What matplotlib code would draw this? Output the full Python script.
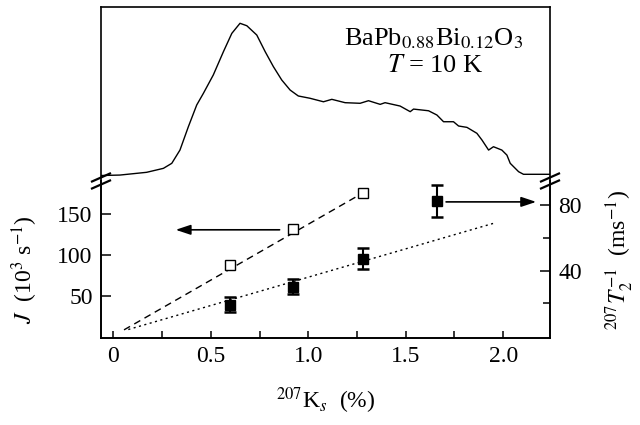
import matplotlib
matplotlib.use("Agg")
import matplotlib.pyplot as plt
from matplotlib.lines import Line2D
from matplotlib.ticker import FixedLocator

plt.rcParams.update({"font.family": "Liberation Serif", "mathtext.fontset": "stix",
                     "font.size": 17, "axes.linewidth": 1.2})

# spectrum (top panel): 207Ks (%) vs intensity (arb. units, peak = 1)
spec_ks = [-0.063, 0.034, 0.171, 0.257, 0.300, 0.342, 0.385, 0.428, 0.462, 0.513,
           0.565, 0.608, 0.650, 0.685, 0.736, 0.779, 0.821, 0.864, 0.907, 0.949,
           1.009, 1.078, 1.121, 1.189, 1.266, 1.309, 1.369, 1.394, 1.471, 1.523,
           1.540, 1.617, 1.660, 1.694, 1.745, 1.771, 1.814, 1.865, 1.891, 1.925,
           1.950, 1.993, 2.019, 2.036, 2.079, 2.104, 2.250]
spec_int = [-0.003, 0.000, 0.018, 0.044, 0.077, 0.164, 0.317, 0.460, 0.536, 0.657,
            0.810, 0.930, 0.996, 0.980, 0.919, 0.810, 0.712, 0.624, 0.558, 0.519,
            0.504, 0.481, 0.497, 0.475, 0.471, 0.488, 0.464, 0.475, 0.453, 0.416,
            0.433, 0.422, 0.394, 0.350, 0.350, 0.322, 0.313, 0.274, 0.230, 0.164,
            0.186, 0.164, 0.131, 0.077, 0.022, 0.005, 0.005]

# J (10^3 s^-1), open squares
j_ks = [0.60, 0.92, 1.28]
j_val = [88, 132, 176]
j_fit_ks = [0.055, 1.285]
j_fit = [8, 177]

# 207T2^-1 (ms^-1), filled squares with error bars
t2_ks = [0.60, 0.92, 1.28, 1.66]
t2_val = [19.3, 30.3, 47.5, 82.6]
t2_err = [4.8, 4.8, 6.4, 9.8]
t2_fit_ks = [0.077, 1.96]
t2_fit = [4, 69.4]

XLIM = (-0.063, 2.24)

fig = plt.figure(figsize=(6.4, 4.25), dpi=100)
L, W = 101 / 640, 449 / 640
ax_top = fig.add_axes([L, (425 - 181) / 425, W, 174 / 425])
ax = fig.add_axes([L, (425 - 338) / 425, W, 157 / 425])
ax2 = ax.twinx()

# top panel
ax_top.plot(spec_ks, spec_int, color="black", lw=1.0, solid_joinstyle="round")
ax_top.set_xlim(*XLIM)
ax_top.set_ylim(-0.039, 1.103)
ax_top.spines["bottom"].set_visible(False)
ax_top.set_xticks([])
ax_top.set_yticks([])
ax_top.text(0.742, 0.782, r"BaPb$_{0.88}$Bi$_{0.12}$O$_3$", transform=ax_top.transAxes,
            ha="center", va="baseline", fontsize=19)
ax_top.text(0.745, 0.626, r"$T$ = 10 K", transform=ax_top.transAxes,
            ha="center", va="baseline", fontsize=19)

# bottom panel, left axis
ax.plot(j_fit_ks, j_fit, color="black", lw=1.0, dashes=(5, 3.5))
ax.plot(j_ks, j_val, "s", ms=7, mfc="white", mec="black", mew=1.0, zorder=4)
ax.set_xlim(*XLIM)
ax.set_ylim(-2, 191)
ax.spines["top"].set_visible(False)
ax.set_xticks([0, 0.5, 1.0, 1.5, 2.0])
ax.set_xticklabels(["0", "0.5", "1.0", "1.5", "2.0"])
ax.xaxis.set_minor_locator(FixedLocator([0.25, 0.75, 1.25, 1.75]))
ax.set_yticks([50, 100, 150])
ax.tick_params(axis="x", which="both", direction="in", length=5, width=1.1, pad=6)
ax.tick_params(axis="y", direction="in", length=7, width=1.1, pad=6)
ax.set_xlabel(r"$^{207}$K$_{s}$  (%)", fontsize=17)
ax.xaxis.set_label_coords(0.5, -0.30)
ax.set_ylabel(r"$J$  (10$^3$ s$^{-1}$)", fontsize=17, va="center")
ax.yaxis.set_label_coords(-0.169, 0.433)
ax.annotate("", xy=(0.32, 131), xytext=(0.853, 131),
            arrowprops=dict(arrowstyle="-|>,head_length=0.9,head_width=0.3",
                            color="black", lw=1.2, shrinkA=0, shrinkB=0, mutation_scale=10))

# bottom panel, right axis
ax2.plot(t2_fit_ks, t2_fit, color="black", lw=1.0, dashes=(1.5, 2.5))
ax2.errorbar(t2_ks, t2_val, yerr=t2_err, fmt="s", ms=6.5, color="black",
             ecolor="black", elinewidth=1.5, capsize=4.5, capthick=1.8, zorder=4)
ax2.set_ylim(-1.2, 95)
ax2.spines["top"].set_visible(False)
ax2.set_yticks([40, 80])
ax2.yaxis.set_minor_locator(FixedLocator([20, 60]))
ax2.tick_params(axis="y", which="major", direction="in", length=7, width=1.1, pad=6)
ax2.tick_params(axis="y", which="minor", direction="in", length=5, width=1.1)
ax2.set_ylabel(r"$^{207}T_2^{-1}$  (ms$^{-1}$)", fontsize=17, va="center", rotation=90)
ax2.yaxis.set_label_coords(1.156, 0.497)
ax2.annotate("", xy=(2.169, 82.2), xytext=(1.707, 82.2),
             arrowprops=dict(arrowstyle="-|>,head_length=0.9,head_width=0.3",
                             color="black", lw=1.2, shrinkA=0, shrinkB=0, mutation_scale=10))

# axis break marks on both sides
for xc in (101, 550):
    for dy in (-3.5, 3.5):
        yc = 181 + dy
        fig.add_artist(Line2D([(xc - 9) / 640, (xc + 9) / 640],
                              [(425 - yc - 4) / 425, (425 - yc + 4) / 425],
                              transform=fig.transFigure, color="black", lw=1.6))

fig.savefig("out.png", dpi=100)
